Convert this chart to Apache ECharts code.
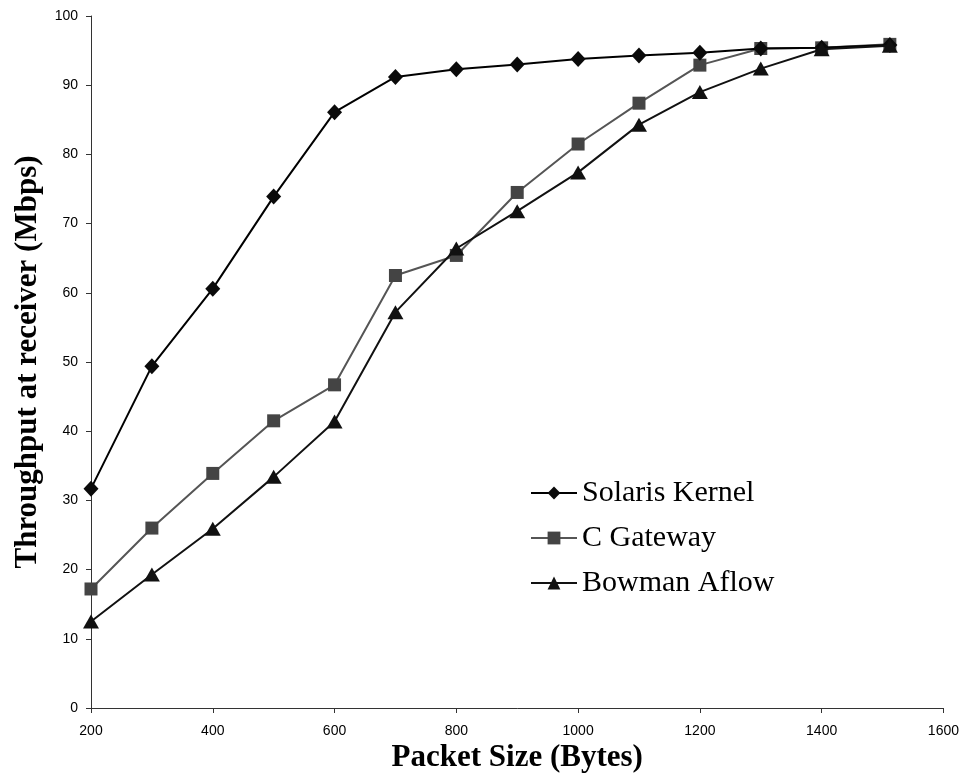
<!DOCTYPE html>
<html>
<head>
<meta charset="utf-8">
<script src="https://cdn.jsdelivr.net/npm/echarts@6/dist/echarts.min.js"></script>
<style>
  html, body { margin: 0; padding: 0; background: #fff; }
  #chart-container { width: 962px; height: 781px; }
</style>
</head>
<body>
<div id="chart-container"></div>
<script>
// packet sizes (bytes)
var packetSizes = [200, 300, 400, 500, 600, 700, 800, 900, 1000, 1100, 1200, 1300, 1400, 1512];

// throughput at receiver (Mbps)
var solarisKernel = [31.7, 49.4, 60.6, 73.9, 86.1, 91.2, 92.3, 93.0, 93.8, 94.3, 94.7, 95.3, 95.4, 95.8];
var cGateway = [17.2, 26.0, 33.9, 41.5, 46.7, 62.5, 65.4, 74.5, 81.5, 87.4, 92.9, 95.3, 95.4, 95.9];
var bowmanAflow = [12.5, 19.3, 25.9, 33.4, 41.4, 57.2, 66.4, 71.8, 77.4, 84.3, 89.0, 92.4, 95.2, 95.7];

function pairs(values) {
  return packetSizes.map(function (x, i) { return [x, values[i]]; });
}

var chartDom = document.getElementById("chart-container");
var myChart = echarts.init(chartDom);

var option = {
  animation: false,
  grid: { left: 91, right: 18, top: 16, bottom: 73 },
  legend: {
    orient: "vertical",
    left: 525,
    top: 473,
    itemWidth: 46,
    itemHeight: 16,
    itemGap: 15,
    textStyle: { fontFamily: "Liberation Serif", fontSize: 30, color: "#000", padding: [0, 0, 0, 0] },
    data: ["Solaris Kernel", "C Gateway", "Bowman Aflow"],
  },
  xAxis: {
    type: "value",
    min: 200,
    max: 1600,
    interval: 200,
    name: "Packet Size (Bytes)",
    nameLocation: "middle",
    nameGap: 34,
    nameTextStyle: { fontFamily: "Liberation Serif", fontWeight: "bold", fontSize: 31, color: "#000" },
    axisLine: { lineStyle: { color: "#333", width: 1 } },
    axisTick: { length: 5, lineStyle: { color: "#333" } },
    axisLabel: { fontFamily: "Liberation Sans", fontSize: 14, color: "#000", margin: 16, formatter: function (v) { return String(v); } },
    splitLine: { show: false },
  },
  yAxis: {
    type: "value",
    min: 0,
    max: 100,
    interval: 10,
    name: "Throughput at receiver (Mbps)",
    nameLocation: "middle",
    nameGap: 46,
    nameTextStyle: { fontFamily: "Liberation Serif", fontWeight: "bold", fontSize: 31, color: "#000" },
    axisLine: { show: true, lineStyle: { color: "#333", width: 1 } },
    axisTick: { show: true, length: 5, lineStyle: { color: "#333" } },
    axisLabel: { fontFamily: "Liberation Sans", fontSize: 14, color: "#000", margin: 13 },
    splitLine: { show: false },
  },
  series: [
    {
      name: "Solaris Kernel",
      type: "line",
      data: pairs(solarisKernel),
      symbol: "diamond",
      symbolSize: [15, 16],
      lineStyle: { color: "#000", width: 2 },
      itemStyle: { color: "#0a0a0a" },
      z: 3,
    },
    {
      name: "C Gateway",
      type: "line",
      data: pairs(cGateway),
      symbol: "rect",
      symbolSize: 13,
      lineStyle: { color: "#555", width: 2 },
      itemStyle: { color: "#444" },
      z: 2,
    },
    {
      name: "Bowman Aflow",
      type: "line",
      data: pairs(bowmanAflow),
      symbol: "triangle",
      symbolSize: [16, 14],
      lineStyle: { color: "#111", width: 2 },
      itemStyle: { color: "#111" },
      z: 4,
    },
  ],
};

myChart.setOption(option);
</script>
</body>
</html>
